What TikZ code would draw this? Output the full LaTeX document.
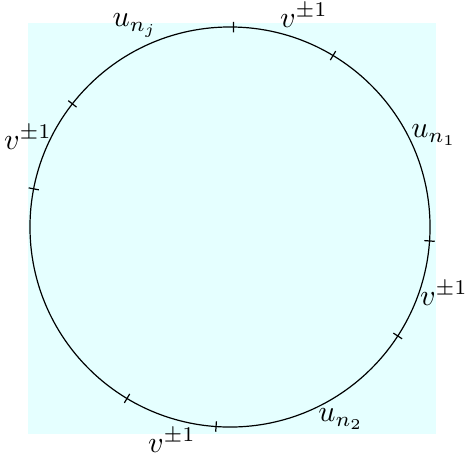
\documentclass[tikz,border=0pt]{standalone}
\definecolor{bgc}{rgb}{0.9,1,1}
\begin{document}
\begin{tikzpicture}[x=0.3333pt,y=-0.3333pt,
  lab/.style={inner sep=0pt,anchor=center},
  tick/.style={line width=0.4pt}]
\useasboundingbox (0,0) rectangle (465,453);
\fill[bgc] (28,23) rectangle (436,434);
\coordinate (c) at (230,227);
\draw (c) circle[radius=66.67pt];
\foreach \a in {89,59,142,169,-4,-33,-94,-121}{
  \draw[tick] ([shift={(\a:64.9pt)}]c) -- ([shift={(\a:68.4pt)}]c);
}
\node[lab] (unj) at (135,25.5) {$u_{n_j}$};
\node[lab] (vtop) at (304,15) {$v^{\pm1}$};
\node[lab] (un1) at (434,135) {$u_{n_1}$};
\node[lab] (vright) at (444,293) {$v^{\pm1}$};
\node[lab] (un2) at (341,419) {$u_{n_2}$};
\node[lab] (vbot) at (172,440) {$v^{\pm1}$};
\node[lab] (vleft) at (28,137) {$v^{\pm1}$};
\end{tikzpicture}
\end{document}
